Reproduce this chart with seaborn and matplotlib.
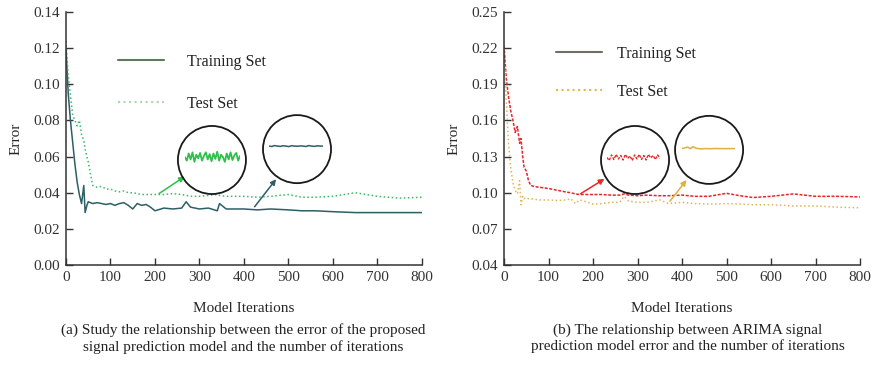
import numpy as np
import pandas as pd
import matplotlib
matplotlib.use("Agg")
import matplotlib.pyplot as plt
from matplotlib.lines import Line2D
import seaborn as sns

# ---- data ----
iters_a = [0, 5, 10, 15, 20, 25, 30, 35, 40, 43, 47, 50, 60, 70, 80, 90, 100, 110, 120, 130,
           140, 150, 160, 170, 180, 190, 200, 220, 240, 260, 270, 280, 300, 320, 340, 345, 360,
           380, 400, 430, 460, 500, 530, 560, 600, 650, 700, 750, 800]
train_a = [0.120, 0.095, 0.080, 0.068, 0.056, 0.046, 0.039, 0.034, 0.044, 0.029, 0.033, 0.035,
           0.034, 0.0345, 0.034, 0.0335, 0.034, 0.033, 0.034, 0.0345, 0.033, 0.031, 0.034, 0.033,
           0.0335, 0.032, 0.030, 0.0315, 0.031, 0.0315, 0.035, 0.032, 0.031, 0.0315, 0.030, 0.034,
           0.031, 0.031, 0.031, 0.0305, 0.031, 0.0305, 0.030, 0.030, 0.0295, 0.029, 0.029, 0.029,
           0.029]
test_a = [0.124, 0.105, 0.094, 0.083, 0.080, 0.077, 0.080, 0.072, 0.069, 0.064, 0.060, 0.057,
          0.044, 0.043, 0.0435, 0.042, 0.042, 0.041, 0.0405, 0.041, 0.040, 0.040, 0.0395, 0.039,
          0.039, 0.039, 0.039, 0.039, 0.0395, 0.039, 0.0385, 0.038, 0.038, 0.0385, 0.039, 0.0385,
          0.038, 0.038, 0.038, 0.0375, 0.038, 0.039, 0.0375, 0.0375, 0.038, 0.040, 0.038, 0.037,
          0.0375]

iters_b = [0, 5, 10, 15, 20, 25, 30, 35, 38, 42, 45, 50, 55, 60, 70, 80, 90, 100, 120, 140, 150,
           160, 170, 180, 200, 220, 240, 260, 270, 280, 300, 320, 350, 370, 400, 430, 460, 500,
           530, 560, 600, 650, 700, 750, 800]
train_b = [0.222, 0.195, 0.180, 0.168, 0.160, 0.150, 0.155, 0.141, 0.145, 0.130, 0.121, 0.118,
           0.110, 0.106, 0.105, 0.1045, 0.104, 0.1035, 0.102, 0.1005, 0.100, 0.099, 0.0985,
           0.0985, 0.0985, 0.0985, 0.098, 0.098, 0.099, 0.098, 0.0975, 0.098, 0.0975, 0.0975,
           0.098, 0.097, 0.097, 0.0995, 0.0975, 0.096, 0.097, 0.099, 0.097, 0.097, 0.0965]
test_b = [0.222, 0.177, 0.141, 0.121, 0.108, 0.102, 0.099, 0.110, 0.090, 0.097, 0.095, 0.096,
          0.095, 0.095, 0.0945, 0.094, 0.094, 0.094, 0.0935, 0.094, 0.095, 0.091, 0.094, 0.093,
          0.0905, 0.091, 0.092, 0.092, 0.097, 0.093, 0.092, 0.092, 0.094, 0.091, 0.092, 0.091,
          0.0905, 0.091, 0.0905, 0.090, 0.090, 0.089, 0.089, 0.088, 0.0875]

# magnified snippets inside the circles (relative level 0..1)
zoom_a_test = [0.5, 0.2, 0.8, 0.3, 0.9, 0.1, 0.7, 0.4, 0.85, 0.2, 0.6, 0.9, 0.3, 0.75, 0.15,
               0.8, 0.35, 0.95, 0.2, 0.7, 0.5, 0.1, 0.8, 0.3, 0.9, 0.25, 0.65, 0.85, 0.2, 0.6]
zoom_a_train = [0.5, 0.46, 0.55, 0.5, 0.47, 0.53, 0.5, 0.45, 0.54, 0.5, 0.48, 0.52, 0.5, 0.46,
                0.55, 0.5, 0.47, 0.53, 0.5, 0.5]
zoom_b_train = [0.5, 0.2, 0.75, 0.3, 0.8, 0.35, 0.7, 0.25, 0.8, 0.4, 0.65, 0.2, 0.75, 0.35,
                0.8, 0.3, 0.7, 0.25, 0.8, 0.45, 0.7, 0.3, 0.75, 0.4]
zoom_b_test = [0.5, 0.6, 0.7, 0.5, 0.75, 0.55, 0.5, 0.45, 0.5, 0.5, 0.48, 0.5, 0.52, 0.5, 0.5,
               0.5, 0.49, 0.5, 0.5, 0.5]

labels = ["Training Set", "Test Set"]
caption_a = "(a) Study the relationship between the error of the proposed\nsignal prediction model and the number of iterations"
caption_b = "(b) The relationship between ARIMA signal\nprediction model error and the number of iterations"

# ---- style ----
sns.set_theme(style="ticks")
plt.rcParams['font.family'] = ['Liberation Serif', 'DejaVu Serif']
plt.rcParams['text.color'] = '#222222'

fig = plt.figure(figsize=(8.74, 3.71), dpi=100)
ax_a = fig.add_axes([0.0755, 0.2857, 0.4073, 0.682])
ax_b = fig.add_axes([0.5767, 0.2857, 0.4073, 0.682])

df_a = pd.DataFrame({"it": iters_a, "train": train_a, "test": test_a})
df_b = pd.DataFrame({"it": iters_b, "train": train_b, "test": test_b})

sns.lineplot(data=df_a, x="it", y="train", ax=ax_a, color="#2d5f66", lw=1.1)
sns.lineplot(data=df_a, x="it", y="test", ax=ax_a, color="#3cb86a", lw=1.1, linestyle=":")
sns.lineplot(data=df_b, x="it", y="train", ax=ax_b, color="#e8262a", lw=1.1, linestyle=(0, (2, 1)))
sns.lineplot(data=df_b, x="it", y="test", ax=ax_b, color="#e0b45a", lw=1.1, linestyle=":")


def style_axes(ax, yticks):
    ax.set_xlim(0, 800)
    ax.set_ylim(yticks[0], yticks[-1])
    ax.set_xticks(range(0, 801, 100))
    ax.set_yticks(yticks)
    ax.set_yticklabels([f"{v:.2f}" for v in yticks])
    ax.tick_params(direction="in", length=5, width=1, labelsize=11, colors="#333333", pad=4)
    sns.despine(ax=ax)
    for s in ["left", "bottom"]:
        ax.spines[s].set_color("#333333")
        ax.spines[s].set_linewidth(1.1)
    ax.set_xlabel("Model Iterations", fontsize=11, labelpad=13)
    ax.set_ylabel("Error", fontsize=11, labelpad=8)


style_axes(ax_a, [0.00, 0.02, 0.04, 0.06, 0.08, 0.10, 0.12, 0.14])
style_axes(ax_b, [0.04, 0.07, 0.10, 0.13, 0.16, 0.19, 0.22, 0.25])

# legends (handle colours as printed in the figure)
leg_a = [Line2D([], [], color="#5b7a5e", lw=1.5),
         Line2D([], [], color="#a8d8b0", lw=1.5, linestyle=":")]
ax_a.legend(leg_a, labels, loc="center left", bbox_to_anchor=(0.146, 0.72), frameon=False,
            fontsize=11.5, handlelength=2.9, handletextpad=1.4, labelspacing=1.6,
            borderpad=0, borderaxespad=0)
leg_b = [Line2D([], [], color="#6e6e62", lw=1.5),
         Line2D([], [], color="#e6b848", lw=1.5, linestyle=":")]
ax_b.legend(leg_b, labels, loc="center left", bbox_to_anchor=(0.146, 0.76), frameon=False,
            fontsize=11.5, handlelength=2.9, handletextpad=0.9, labelspacing=1.4,
            borderpad=0, borderaxespad=0)


def magnifier(ax, circle_xy, inset_box, snippet, color, lw, ls, arrow_from, arrow_to):
    ax.scatter([circle_xy[0]], [circle_xy[1]], s=2400, facecolors="none",
               edgecolors="#1a1a1a", linewidths=1.3, transform=ax.transAxes, zorder=5,
               clip_on=False)
    ins = ax.inset_axes(inset_box)
    ins.plot(range(len(snippet)), snippet, color=color, lw=lw, linestyle=ls)
    ins.set_ylim(0, 1)
    ins.set_xlim(0, len(snippet) - 1)
    ins.axis("off")
    ax.annotate("", xy=arrow_to, xytext=arrow_from,
                arrowprops=dict(arrowstyle="-|>", color=color, lw=1.1, mutation_scale=8))


magnifier(ax_a, (0.410, 0.415), [0.334, 0.403, 0.155, 0.047], zoom_a_test, "#2ec04a", 1.3, "-",
          (204, 0.0387), (272, 0.0498))
magnifier(ax_a, (0.649, 0.458), [0.570, 0.450, 0.152, 0.040], zoom_a_train, "#2d5f66", 1.1, "-",
          (420, 0.031), (476, 0.0487))
magnifier(ax_b, (0.368, 0.415), [0.289, 0.405, 0.149, 0.040], zoom_b_train, "#e8262a", 1.0,
          (0, (2, 1)), (167, 0.098), (231, 0.1127))
magnifier(ax_b, (0.576, 0.455), [0.500, 0.445, 0.149, 0.030], zoom_b_test, "#e0b040", 1.1, "-",
          (369, 0.0911), (414, 0.1124))

fig.text(0.278, 0.088, caption_a, ha="center", va="center", fontsize=11, linespacing=1.25)
fig.text(0.787, 0.088, caption_b, ha="center", va="center", fontsize=11, linespacing=1.25)

fig.savefig("out.png", dpi=100)
